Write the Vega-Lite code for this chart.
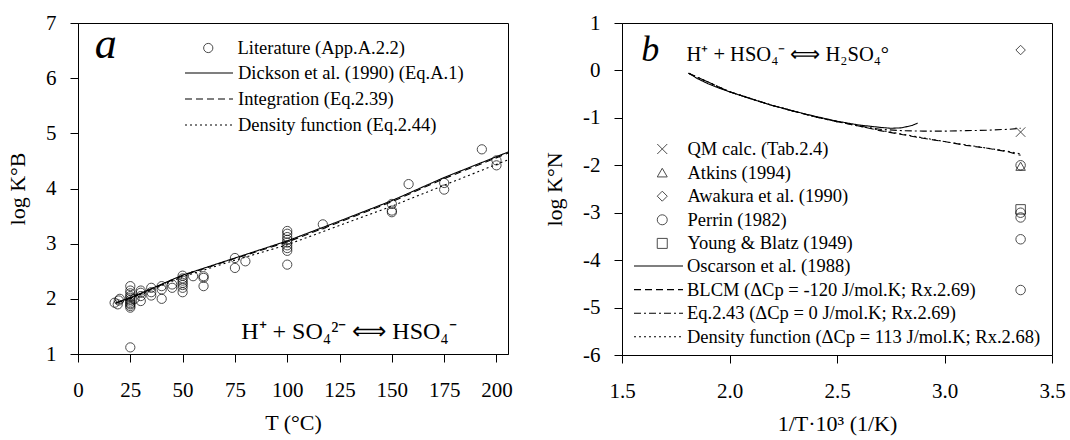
{
  "$schema": "https://vega.github.io/schema/vega-lite/v6.json",
  "background": "white",
  "padding": {"left": 6, "top": 11, "right": 2, "bottom": 2},
  "spacing": 30,
  "config": {
    "font": "Liberation Serif",
    "view": {"stroke": "black", "strokeWidth": 1},
    "axis": {
      "labelFont": "Liberation Serif", "labelFontSize": 21, "labelColor": "black",
      "titleFont": "Liberation Serif", "titleFontSize": 22, "titleFontWeight": "normal", "titleColor": "black",
      "tickColor": "black", "domainColor": "black", "tickSize": 8, "grid": false,
      "labelFlush": false, "labelOverlap": false
    },
    "axisX": {"labelPadding": 17, "titlePadding": 12},
    "axisY": {"labelPadding": 14, "titlePadding": 16},
    "legend": {
      "labelFont": "Liberation Serif", "labelFontSize": 18.5, "labelColor": "black", "labelLimit": 0,
      "padding": 0, "title": null, "clipHeight": 20,
      "symbolStrokeColor": "black", "symbolFillColor": "transparent"
    },
    "text": {"font": "Liberation Serif", "color": "black"}
  },
  "datasets": {
    "leftPts": [
      {"T": 17.5, "logK": 1.93, "src": "Literature (App.A.2.2)"},
      {"T": 19.5, "logK": 1.97, "src": "Literature (App.A.2.2)"},
      {"T": 19, "logK": 1.9, "src": "Literature (App.A.2.2)"},
      {"T": 20, "logK": 2.0, "src": "Literature (App.A.2.2)"},
      {"T": 25, "logK": 2.23, "src": "Literature (App.A.2.2)"},
      {"T": 25, "logK": 2.15, "src": "Literature (App.A.2.2)"},
      {"T": 25, "logK": 2.1, "src": "Literature (App.A.2.2)"},
      {"T": 25, "logK": 2.05, "src": "Literature (App.A.2.2)"},
      {"T": 25, "logK": 2.02, "src": "Literature (App.A.2.2)"},
      {"T": 25, "logK": 1.98, "src": "Literature (App.A.2.2)"},
      {"T": 25, "logK": 1.95, "src": "Literature (App.A.2.2)"},
      {"T": 25, "logK": 1.92, "src": "Literature (App.A.2.2)"},
      {"T": 25, "logK": 1.9, "src": "Literature (App.A.2.2)"},
      {"T": 25, "logK": 1.87, "src": "Literature (App.A.2.2)"},
      {"T": 25, "logK": 1.84, "src": "Literature (App.A.2.2)"},
      {"T": 25, "logK": 1.12, "src": "Literature (App.A.2.2)"},
      {"T": 27, "logK": 2.0, "src": "Literature (App.A.2.2)"},
      {"T": 30, "logK": 2.15, "src": "Literature (App.A.2.2)"},
      {"T": 30, "logK": 2.11, "src": "Literature (App.A.2.2)"},
      {"T": 30, "logK": 2.05, "src": "Literature (App.A.2.2)"},
      {"T": 30, "logK": 1.96, "src": "Literature (App.A.2.2)"},
      {"T": 35, "logK": 2.2, "src": "Literature (App.A.2.2)"},
      {"T": 35, "logK": 2.12, "src": "Literature (App.A.2.2)"},
      {"T": 35, "logK": 2.06, "src": "Literature (App.A.2.2)"},
      {"T": 40, "logK": 2.23, "src": "Literature (App.A.2.2)"},
      {"T": 40, "logK": 2.17, "src": "Literature (App.A.2.2)"},
      {"T": 40, "logK": 2.0, "src": "Literature (App.A.2.2)"},
      {"T": 45, "logK": 2.26, "src": "Literature (App.A.2.2)"},
      {"T": 45, "logK": 2.2, "src": "Literature (App.A.2.2)"},
      {"T": 50, "logK": 2.42, "src": "Literature (App.A.2.2)"},
      {"T": 50, "logK": 2.37, "src": "Literature (App.A.2.2)"},
      {"T": 50, "logK": 2.33, "src": "Literature (App.A.2.2)"},
      {"T": 50, "logK": 2.29, "src": "Literature (App.A.2.2)"},
      {"T": 50, "logK": 2.25, "src": "Literature (App.A.2.2)"},
      {"T": 50, "logK": 2.2, "src": "Literature (App.A.2.2)"},
      {"T": 50, "logK": 2.12, "src": "Literature (App.A.2.2)"},
      {"T": 55, "logK": 2.41, "src": "Literature (App.A.2.2)"},
      {"T": 60, "logK": 2.41, "src": "Literature (App.A.2.2)"},
      {"T": 60, "logK": 2.38, "src": "Literature (App.A.2.2)"},
      {"T": 60, "logK": 2.23, "src": "Literature (App.A.2.2)"},
      {"T": 75, "logK": 2.74, "src": "Literature (App.A.2.2)"},
      {"T": 75, "logK": 2.56, "src": "Literature (App.A.2.2)"},
      {"T": 80, "logK": 2.68, "src": "Literature (App.A.2.2)"},
      {"T": 100, "logK": 3.23, "src": "Literature (App.A.2.2)"},
      {"T": 100, "logK": 3.18, "src": "Literature (App.A.2.2)"},
      {"T": 100, "logK": 3.12, "src": "Literature (App.A.2.2)"},
      {"T": 100, "logK": 3.07, "src": "Literature (App.A.2.2)"},
      {"T": 100, "logK": 3.02, "src": "Literature (App.A.2.2)"},
      {"T": 100, "logK": 2.97, "src": "Literature (App.A.2.2)"},
      {"T": 100, "logK": 2.92, "src": "Literature (App.A.2.2)"},
      {"T": 100, "logK": 2.87, "src": "Literature (App.A.2.2)"},
      {"T": 100, "logK": 2.62, "src": "Literature (App.A.2.2)"},
      {"T": 117, "logK": 3.35, "src": "Literature (App.A.2.2)"},
      {"T": 150, "logK": 3.72, "src": "Literature (App.A.2.2)"},
      {"T": 150, "logK": 3.6, "src": "Literature (App.A.2.2)"},
      {"T": 150, "logK": 3.57, "src": "Literature (App.A.2.2)"},
      {"T": 158, "logK": 4.08, "src": "Literature (App.A.2.2)"},
      {"T": 175, "logK": 4.1, "src": "Literature (App.A.2.2)"},
      {"T": 175, "logK": 3.98, "src": "Literature (App.A.2.2)"},
      {"T": 193, "logK": 4.71, "src": "Literature (App.A.2.2)"},
      {"T": 200, "logK": 4.51, "src": "Literature (App.A.2.2)"},
      {"T": 200, "logK": 4.42, "src": "Literature (App.A.2.2)"}
    ],
    "leftLines": [
      {"model": "Dickson et al. (1990) (Eq.A.1)", "T": 18, "logK": 1.93},
      {"model": "Dickson et al. (1990) (Eq.A.1)", "T": 25, "logK": 2.02},
      {"model": "Dickson et al. (1990) (Eq.A.1)", "T": 50, "logK": 2.43},
      {"model": "Dickson et al. (1990) (Eq.A.1)", "T": 75, "logK": 2.74},
      {"model": "Dickson et al. (1990) (Eq.A.1)", "T": 100, "logK": 3.05},
      {"model": "Dickson et al. (1990) (Eq.A.1)", "T": 125, "logK": 3.41},
      {"model": "Dickson et al. (1990) (Eq.A.1)", "T": 150, "logK": 3.78},
      {"model": "Dickson et al. (1990) (Eq.A.1)", "T": 175, "logK": 4.2},
      {"model": "Dickson et al. (1990) (Eq.A.1)", "T": 205.5, "logK": 4.66},
      {"model": "Integration (Eq.2.39)", "T": 18, "logK": 1.92},
      {"model": "Integration (Eq.2.39)", "T": 25, "logK": 2.01},
      {"model": "Integration (Eq.2.39)", "T": 50, "logK": 2.42},
      {"model": "Integration (Eq.2.39)", "T": 75, "logK": 2.73},
      {"model": "Integration (Eq.2.39)", "T": 100, "logK": 3.03},
      {"model": "Integration (Eq.2.39)", "T": 125, "logK": 3.39},
      {"model": "Integration (Eq.2.39)", "T": 150, "logK": 3.76},
      {"model": "Integration (Eq.2.39)", "T": 175, "logK": 4.18},
      {"model": "Integration (Eq.2.39)", "T": 205.5, "logK": 4.64},
      {"model": "Density function (Eq.2.44)", "T": 18, "logK": 1.92},
      {"model": "Density function (Eq.2.44)", "T": 25, "logK": 2.0},
      {"model": "Density function (Eq.2.44)", "T": 50, "logK": 2.4},
      {"model": "Density function (Eq.2.44)", "T": 75, "logK": 2.7},
      {"model": "Density function (Eq.2.44)", "T": 100, "logK": 2.98},
      {"model": "Density function (Eq.2.44)", "T": 125, "logK": 3.33},
      {"model": "Density function (Eq.2.44)", "T": 150, "logK": 3.68},
      {"model": "Density function (Eq.2.44)", "T": 175, "logK": 4.06},
      {"model": "Density function (Eq.2.44)", "T": 205.5, "logK": 4.52}
    ],
    "rightPts": [
      {"invT": 3.354, "logK": -1.3, "source": "QM calc. (Tab.2.4)"},
      {"invT": 3.354, "logK": -2.02, "source": "Atkins (1994)"},
      {"invT": 3.354, "logK": 0.43, "source": "Awakura et al. (1990)"},
      {"invT": 3.354, "logK": -2.0, "source": "Perrin (1982)"},
      {"invT": 3.354, "logK": -3.0, "source": "Perrin (1982)"},
      {"invT": 3.354, "logK": -3.1, "source": "Perrin (1982)"},
      {"invT": 3.354, "logK": -3.56, "source": "Perrin (1982)"},
      {"invT": 3.354, "logK": -4.63, "source": "Perrin (1982)"},
      {"invT": 3.354, "logK": -2.93, "source": "Young & Blatz (1949)"}
    ],
    "rightLines": [
      {"model": "Oscarson et al. (1988)", "invT": 1.81, "logK": -0.06},
      {"model": "Oscarson et al. (1988)", "invT": 1.85, "logK": -0.17},
      {"model": "Oscarson et al. (1988)", "invT": 1.9, "logK": -0.28},
      {"model": "Oscarson et al. (1988)", "invT": 1.95, "logK": -0.37},
      {"model": "Oscarson et al. (1988)", "invT": 2.0, "logK": -0.45},
      {"model": "Oscarson et al. (1988)", "invT": 2.1, "logK": -0.6},
      {"model": "Oscarson et al. (1988)", "invT": 2.2, "logK": -0.74},
      {"model": "Oscarson et al. (1988)", "invT": 2.3, "logK": -0.86},
      {"model": "Oscarson et al. (1988)", "invT": 2.4, "logK": -0.97},
      {"model": "Oscarson et al. (1988)", "invT": 2.5, "logK": -1.07},
      {"model": "Oscarson et al. (1988)", "invT": 2.6, "logK": -1.15},
      {"model": "Oscarson et al. (1988)", "invT": 2.7, "logK": -1.2},
      {"model": "Oscarson et al. (1988)", "invT": 2.75, "logK": -1.22},
      {"model": "Oscarson et al. (1988)", "invT": 2.8, "logK": -1.21},
      {"model": "Oscarson et al. (1988)", "invT": 2.85, "logK": -1.16},
      {"model": "Oscarson et al. (1988)", "invT": 2.875, "logK": -1.11},
      {"model": "BLCM (ΔCp = -120 J/mol.K; Rx.2.69)", "invT": 1.81, "logK": -0.06},
      {"model": "BLCM (ΔCp = -120 J/mol.K; Rx.2.69)", "invT": 2.0, "logK": -0.45},
      {"model": "BLCM (ΔCp = -120 J/mol.K; Rx.2.69)", "invT": 2.2, "logK": -0.74},
      {"model": "BLCM (ΔCp = -120 J/mol.K; Rx.2.69)", "invT": 2.4, "logK": -0.98},
      {"model": "BLCM (ΔCp = -120 J/mol.K; Rx.2.69)", "invT": 2.5, "logK": -1.08},
      {"model": "BLCM (ΔCp = -120 J/mol.K; Rx.2.69)", "invT": 2.6, "logK": -1.17},
      {"model": "BLCM (ΔCp = -120 J/mol.K; Rx.2.69)", "invT": 2.7, "logK": -1.27},
      {"model": "BLCM (ΔCp = -120 J/mol.K; Rx.2.69)", "invT": 2.8, "logK": -1.35},
      {"model": "BLCM (ΔCp = -120 J/mol.K; Rx.2.69)", "invT": 2.9, "logK": -1.43},
      {"model": "BLCM (ΔCp = -120 J/mol.K; Rx.2.69)", "invT": 3.0, "logK": -1.5},
      {"model": "BLCM (ΔCp = -120 J/mol.K; Rx.2.69)", "invT": 3.1, "logK": -1.58},
      {"model": "BLCM (ΔCp = -120 J/mol.K; Rx.2.69)", "invT": 3.2, "logK": -1.64},
      {"model": "BLCM (ΔCp = -120 J/mol.K; Rx.2.69)", "invT": 3.3, "logK": -1.72},
      {"model": "BLCM (ΔCp = -120 J/mol.K; Rx.2.69)", "invT": 3.354, "logK": -1.79},
      {"model": "Eq.2.43 (ΔCp = 0 J/mol.K; Rx.2.69)", "invT": 1.81, "logK": -0.06},
      {"model": "Eq.2.43 (ΔCp = 0 J/mol.K; Rx.2.69)", "invT": 2.0, "logK": -0.45},
      {"model": "Eq.2.43 (ΔCp = 0 J/mol.K; Rx.2.69)", "invT": 2.2, "logK": -0.74},
      {"model": "Eq.2.43 (ΔCp = 0 J/mol.K; Rx.2.69)", "invT": 2.4, "logK": -0.98},
      {"model": "Eq.2.43 (ΔCp = 0 J/mol.K; Rx.2.69)", "invT": 2.5, "logK": -1.08},
      {"model": "Eq.2.43 (ΔCp = 0 J/mol.K; Rx.2.69)", "invT": 2.6, "logK": -1.17},
      {"model": "Eq.2.43 (ΔCp = 0 J/mol.K; Rx.2.69)", "invT": 2.7, "logK": -1.24},
      {"model": "Eq.2.43 (ΔCp = 0 J/mol.K; Rx.2.69)", "invT": 2.8, "logK": -1.27},
      {"model": "Eq.2.43 (ΔCp = 0 J/mol.K; Rx.2.69)", "invT": 2.9, "logK": -1.28},
      {"model": "Eq.2.43 (ΔCp = 0 J/mol.K; Rx.2.69)", "invT": 3.0, "logK": -1.28},
      {"model": "Eq.2.43 (ΔCp = 0 J/mol.K; Rx.2.69)", "invT": 3.1, "logK": -1.27},
      {"model": "Eq.2.43 (ΔCp = 0 J/mol.K; Rx.2.69)", "invT": 3.2, "logK": -1.26},
      {"model": "Eq.2.43 (ΔCp = 0 J/mol.K; Rx.2.69)", "invT": 3.3, "logK": -1.24},
      {"model": "Eq.2.43 (ΔCp = 0 J/mol.K; Rx.2.69)", "invT": 3.354, "logK": -1.22},
      {"model": "Density function (ΔCp = 113 J/mol.K; Rx.2.68)", "invT": 1.81, "logK": -0.06},
      {"model": "Density function (ΔCp = 113 J/mol.K; Rx.2.68)", "invT": 2.0, "logK": -0.45},
      {"model": "Density function (ΔCp = 113 J/mol.K; Rx.2.68)", "invT": 2.2, "logK": -0.74},
      {"model": "Density function (ΔCp = 113 J/mol.K; Rx.2.68)", "invT": 2.4, "logK": -0.98},
      {"model": "Density function (ΔCp = 113 J/mol.K; Rx.2.68)", "invT": 2.5, "logK": -1.08},
      {"model": "Density function (ΔCp = 113 J/mol.K; Rx.2.68)", "invT": 2.6, "logK": -1.17},
      {"model": "Density function (ΔCp = 113 J/mol.K; Rx.2.68)", "invT": 2.7, "logK": -1.26},
      {"model": "Density function (ΔCp = 113 J/mol.K; Rx.2.68)", "invT": 2.8, "logK": -1.34},
      {"model": "Density function (ΔCp = 113 J/mol.K; Rx.2.68)", "invT": 2.9, "logK": -1.42},
      {"model": "Density function (ΔCp = 113 J/mol.K; Rx.2.68)", "invT": 3.0, "logK": -1.5},
      {"model": "Density function (ΔCp = 113 J/mol.K; Rx.2.68)", "invT": 3.1, "logK": -1.57},
      {"model": "Density function (ΔCp = 113 J/mol.K; Rx.2.68)", "invT": 3.2, "logK": -1.64},
      {"model": "Density function (ΔCp = 113 J/mol.K; Rx.2.68)", "invT": 3.3, "logK": -1.71},
      {"model": "Density function (ΔCp = 113 J/mol.K; Rx.2.68)", "invT": 3.354, "logK": -1.76}
    ]
  },
  "resolve": {
    "scale": {"shape": "independent", "strokeDash": "independent"},
    "legend": {"shape": "independent", "strokeDash": "independent"}
  },
  "hconcat": [
    {
      "width": 430,
      "height": 331,
      "layer": [
        {
          "data": {"name": "leftLines"},
          "mark": {"type": "line", "color": "black", "strokeWidth": 1.1, "clip": true},
          "encoding": {
            "x": {"field": "T", "type": "quantitative", "scale": {"domain": [0, 205.5], "nice": false, "zero": false},
                  "axis": {"title": "T (°C)", "values": [0, 25, 50, 75, 100, 125, 150, 175, 200], "format": "d"}},
            "y": {"field": "logK", "type": "quantitative", "scale": {"domain": [1, 7], "nice": false, "zero": false},
                  "axis": {"title": "log K°B", "values": [1, 2, 3, 4, 5, 6, 7], "format": "d"}},
            "strokeDash": {"field": "model", "type": "nominal",
              "scale": {"domain": ["Dickson et al. (1990) (Eq.A.1)", "Integration (Eq.2.39)", "Density function (Eq.2.44)"],
                        "range": [[1, 0], [7, 4], [2, 3]]},
              "legend": {"orient": "none", "legendX": 106, "legendY": 40, "symbolSize": 2304, "symbolType": "stroke",
                         "symbolStrokeWidth": 1.1, "labelOffset": 4, "rowPadding": 6}}
          }
        },
        {
          "data": {"name": "leftPts"},
          "mark": {"type": "point", "filled": false, "color": "black", "size": 85, "strokeWidth": 1},
          "encoding": {
            "x": {"field": "T", "type": "quantitative", "scale": {"domain": [0, 205.5], "nice": false, "zero": false},
                  "axis": {"title": "T (°C)", "values": [0, 25, 50, 75, 100, 125, 150, 175, 200], "format": "d"}},
            "y": {"field": "logK", "type": "quantitative", "scale": {"domain": [1, 7], "nice": false, "zero": false},
                  "axis": {"title": "log K°B", "values": [1, 2, 3, 4, 5, 6, 7], "format": "d"}},
            "shape": {"field": "src", "type": "nominal", "scale": {"range": ["circle"]},
              "legend": {"orient": "none", "legendX": 121, "legendY": 15, "symbolSize": 85, "symbolStrokeWidth": 1,
                         "labelOffset": 20}}
          }
        },
        {
          "data": {"values": [{"lbl": "a"}]},
          "mark": {"type": "text", "fontStyle": "italic", "fontSize": 44, "align": "left", "baseline": "alphabetic"},
          "encoding": {"x": {"datum": 8.0}, "y": {"datum": 6.36}, "text": {"field": "lbl"}}
        },
        {
          "data": {"values": [{"lbl": "H⁺ + SO₄²⁻ ⟺ HSO₄⁻"}]},
          "mark": {"type": "text", "fontSize": 24, "align": "left", "baseline": "alphabetic"},
          "encoding": {"x": {"datum": 78}, "y": {"datum": 1.27}, "text": {"field": "lbl"}}
        }
      ]
    },
    {
      "width": 430,
      "height": 332,
      "layer": [
        {
          "data": {"name": "rightLines"},
          "mark": {"type": "line", "color": "black", "strokeWidth": 1.1, "clip": true},
          "encoding": {
            "x": {"field": "invT", "type": "quantitative", "scale": {"domain": [1.5, 3.5], "nice": false, "zero": false},
                  "axis": {"title": "1/T·10³ (1/K)", "values": [1.5, 2.0, 2.5, 3.0, 3.5], "format": ".1f"}},
            "y": {"field": "logK", "type": "quantitative", "scale": {"domain": [-6, 1], "nice": false, "zero": false},
                  "axis": {"title": "log K°N", "values": [-6, -5, -4, -3, -2, -1, 0, 1], "format": "d", "labelExpr": "replace(datum.label, '−', '-')"}},
            "strokeDash": {"field": "model", "type": "nominal",
              "scale": {"domain": ["Oscarson et al. (1988)", "BLCM (ΔCp = -120 J/mol.K; Rx.2.69)", "Eq.2.43 (ΔCp = 0 J/mol.K; Rx.2.69)", "Density function (ΔCp = 113 J/mol.K; Rx.2.68)"],
                        "range": [[1, 0], [7, 4], [7, 3, 2, 3], [2, 3]]},
              "legend": {"orient": "none", "legendX": 11, "legendY": 233, "symbolSize": 2401, "symbolType": "stroke",
                         "symbolStrokeWidth": 1.1, "labelOffset": 3, "rowPadding": 3.6}}
          }
        },
        {
          "data": {"name": "rightPts"},
          "mark": {"type": "point", "filled": false, "color": "black", "size": 90, "strokeWidth": 1},
          "encoding": {
            "x": {"field": "invT", "type": "quantitative", "scale": {"domain": [1.5, 3.5], "nice": false, "zero": false},
                  "axis": {"title": "1/T·10³ (1/K)", "values": [1.5, 2.0, 2.5, 3.0, 3.5], "format": ".1f"}},
            "y": {"field": "logK", "type": "quantitative", "scale": {"domain": [-6, 1], "nice": false, "zero": false},
                  "axis": {"title": "log K°N", "values": [-6, -5, -4, -3, -2, -1, 0, 1], "format": "d", "labelExpr": "replace(datum.label, '−', '-')"}},
            "shape": {"field": "source", "type": "nominal",
              "scale": {"domain": ["QM calc. (Tab.2.4)", "Atkins (1994)", "Awakura et al. (1990)", "Perrin (1982)", "Young & Blatz (1949)"],
                        "range": ["M-1,-1L1,1M1,-1L-1,1", "triangle-up", "diamond", "circle", "square"]},
              "legend": {"orient": "none", "legendX": 31, "legendY": 116, "symbolSize": 100, "symbolStrokeWidth": 1,
                         "labelOffset": 16, "rowPadding": 3.6}}
          }
        },
        {
          "data": {"values": [{"lbl": "b"}]},
          "mark": {"type": "text", "fontStyle": "italic", "fontSize": 36, "align": "left", "baseline": "alphabetic"},
          "encoding": {"x": {"datum": 1.59}, "y": {"datum": 0.2}, "text": {"field": "lbl"}}
        },
        {
          "data": {"values": [{"lbl": "H⁺ + HSO₄⁻ ⟺ H₂SO₄°"}]},
          "mark": {"type": "text", "fontSize": 20.5, "align": "left", "baseline": "alphabetic"},
          "encoding": {"x": {"datum": 1.8}, "y": {"datum": 0.2}, "text": {"field": "lbl"}}
        }
      ]
    }
  ]
}
